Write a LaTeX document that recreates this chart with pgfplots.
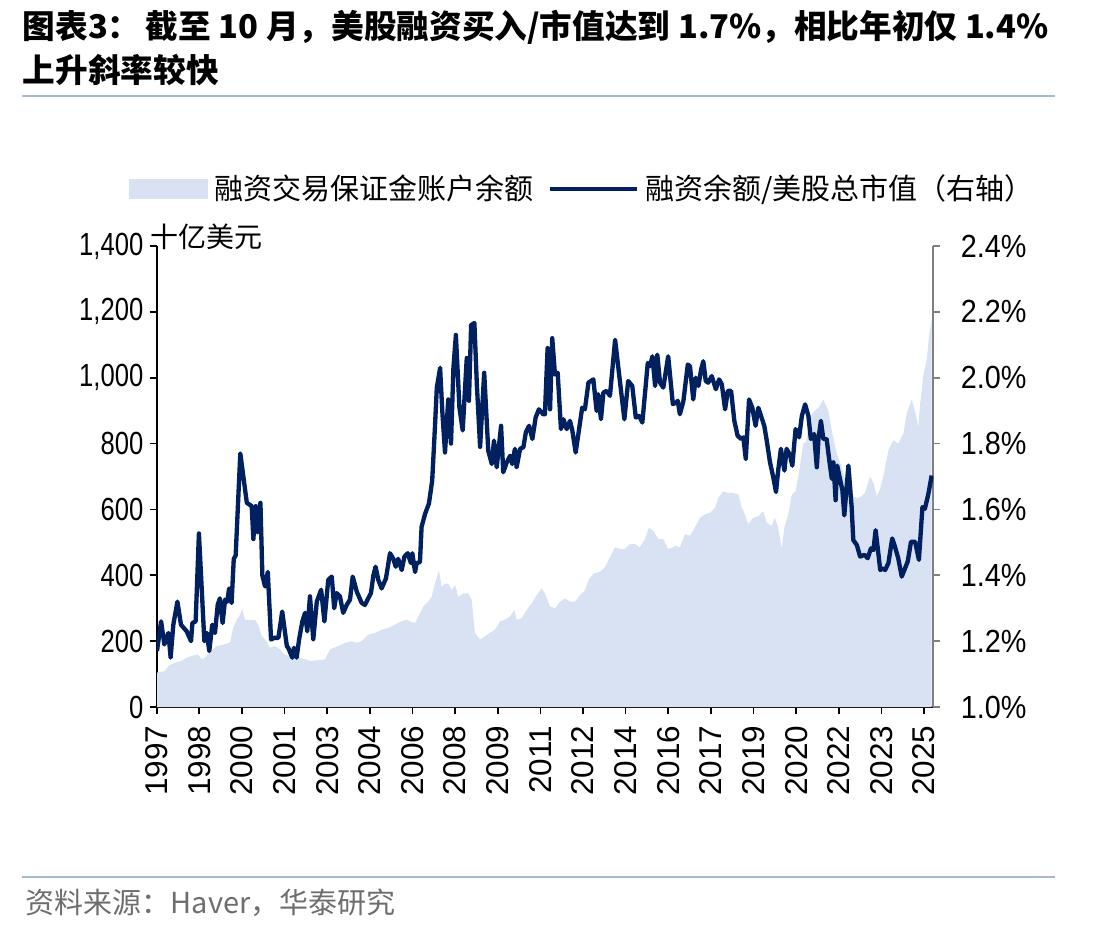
\documentclass[border=0pt]{standalone}
\usepackage{fontspec}
\setmainfont{Liberation Sans}
\newfontfamily\tickfont{Liberation Sans}[FakeStretch=0.8]
\newfontfamily\tickfontr{Liberation Sans}[FakeStretch=0.9]
\newfontfamily\cjk{Noto Sans CJK SC}
\usepackage{pgfplots}
\pgfplotsset{compat=1.18}
\definecolor{areablue}{RGB}{217,226,243}
\definecolor{navy}{RGB}{0,32,96}
\definecolor{rulecol}{RGB}{166,185,212}
\definecolor{srcgray}{RGB}{110,110,110}
\definecolor{raxis}{RGB}{128,128,128}

\pgfplotstableread{
x y
1997.00 105
1997.29 109
1997.42 125
1997.66 135
1997.91 140
1998.09 150
1998.27 155
1998.50 160
1998.64 145
1998.76 150
1998.95 165
1999.19 185
1999.44 190
1999.68 195
1999.80 240
1999.93 265
2000.05 280
2000.13 300
2000.23 265
2000.42 265
2000.60 265
2000.72 250
2000.85 215
2000.97 205
2001.15 180
2001.33 185
2001.52 175
2001.70 158
2001.95 155
2002.25 150
2002.44 145
2002.62 140
2002.93 142
2003.17 145
2003.36 175
2003.66 185
2003.91 195
2004.15 200
2004.34 195
2004.52 200
2004.76 220
2005.01 225
2005.25 235
2005.50 240
2005.74 250
2005.99 260
2006.17 265
2006.29 260
2006.48 255
2006.66 285
2006.78 305
2006.97 320
2007.09 335
2007.21 375
2007.36 415
2007.46 365
2007.58 375
2007.70 375
2007.83 355
2007.95 370
2008.07 335
2008.25 345
2008.44 345
2008.56 325
2008.68 225
2008.87 205
2009.05 215
2009.23 225
2009.42 235
2009.60 260
2009.78 265
2009.97 275
2010.13 295
2010.21 265
2010.40 270
2010.58 295
2010.77 315
2010.95 340
2011.13 360
2011.25 345
2011.44 305
2011.62 300
2011.81 320
2011.99 330
2012.17 320
2012.36 320
2012.54 340
2012.72 355
2012.85 385
2013.03 405
2013.27 410
2013.46 425
2013.64 455
2013.83 485
2014.01 480
2014.19 480
2014.38 495
2014.56 495
2014.74 485
2014.93 510
2015.07 545
2015.23 535
2015.42 510
2015.60 510
2015.78 480
2015.97 485
2016.03 490
2016.21 485
2016.40 525
2016.58 520
2016.76 545
2016.95 575
2017.13 585
2017.32 590
2017.50 605
2017.62 635
2017.80 655
2017.99 650
2018.17 650
2018.36 645
2018.48 605
2018.60 585
2018.72 555
2018.91 575
2019.09 580
2019.27 595
2019.40 560
2019.58 550
2019.70 575
2019.82 545
2019.95 480
2020.05 545
2020.19 585
2020.32 645
2020.46 655
2020.59 715
2020.74 800
2020.85 805
2020.99 880
2021.17 900
2021.32 910
2021.48 934
2021.66 900
2021.79 840
2021.97 770
2022.15 730
2022.34 670
2022.52 640
2022.71 635
2022.89 640
2023.01 650
2023.19 700
2023.32 680
2023.44 640
2023.56 660
2023.68 700
2023.87 780
2024.05 810
2024.23 800
2024.42 830
2024.54 890
2024.73 935
2024.87 890
2024.97 850
2025.03 915
2025.15 1005
2025.28 1055
2025.36 1125
2025.46 1180
}\margintab

\pgfplotstableread{
x y
1997.00 1.17
1997.15 1.26
1997.27 1.19
1997.42 1.225
1997.50 1.15
1997.60 1.25
1997.75 1.32
1997.88 1.25
1998.09 1.23
1998.25 1.20
1998.30 1.255
1998.42 1.26
1998.54 1.527
1998.74 1.20
1998.83 1.225
1998.92 1.17
1999.03 1.25
1999.13 1.225
1999.23 1.31
1999.31 1.33
1999.41 1.255
1999.50 1.326
1999.58 1.32
1999.65 1.36
1999.74 1.316
1999.82 1.45
1999.89 1.46
2000.06 1.77
2000.30 1.62
2000.48 1.61
2000.54 1.51
2000.63 1.61
2000.70 1.53
2000.80 1.62
2000.87 1.40
2000.97 1.366
2001.07 1.41
2001.19 1.205
2001.31 1.21
2001.46 1.21
2001.60 1.29
2001.77 1.185
2001.82 1.18
2001.97 1.15
2002.03 1.18
2002.13 1.15
2002.22 1.205
2002.34 1.26
2002.44 1.286
2002.52 1.23
2002.62 1.336
2002.74 1.205
2002.87 1.32
2003.03 1.356
2003.15 1.26
2003.29 1.386
2003.42 1.396
2003.51 1.30
2003.60 1.346
2003.72 1.336
2003.84 1.286
2003.97 1.31
2004.09 1.326
2004.19 1.396
2004.34 1.35
2004.52 1.316
2004.64 1.31
2004.76 1.33
2004.86 1.346
2004.95 1.40
2005.03 1.426
2005.13 1.386
2005.25 1.36
2005.41 1.39
2005.56 1.467
2005.68 1.45
2005.77 1.426
2005.86 1.45
2005.99 1.416
2006.09 1.457
2006.21 1.467
2006.33 1.437
2006.38 1.467
2006.48 1.41
2006.54 1.437
2006.66 1.44
2006.72 1.547
2006.85 1.587
2006.99 1.618
2007.11 1.688
2007.21 1.849
2007.28 1.97
2007.40 2.03
2007.48 1.90
2007.58 1.773
2007.70 1.934
2007.80 1.80
2007.89 2.03
2007.98 2.13
2008.11 1.91
2008.23 1.84
2008.38 2.06
2008.46 1.93
2008.54 2.16
2008.66 2.166
2008.75 1.98
2008.87 1.79
2009.02 2.015
2009.17 1.778
2009.30 1.738
2009.38 1.809
2009.48 1.728
2009.64 1.854
2009.72 1.713
2009.85 1.743
2009.97 1.763
2010.05 1.738
2010.15 1.784
2010.21 1.728
2010.34 1.784
2010.46 1.789
2010.55 1.834
2010.67 1.854
2010.79 1.814
2010.91 1.879
2011.03 1.904
2011.19 1.889
2011.25 1.889
2011.35 2.09
2011.44 1.904
2011.52 2.12
2011.62 2.01
2011.72 2.015
2011.84 1.844
2011.93 1.874
2012.05 1.844
2012.17 1.869
2012.26 1.839
2012.38 1.773
2012.48 1.829
2012.62 1.909
2012.72 1.904
2012.85 1.985
2013.03 1.995
2013.15 1.899
2013.21 1.95
2013.31 1.874
2013.40 1.955
2013.52 1.96
2013.64 1.945
2013.83 2.115
2013.97 2.015
2014.17 1.874
2014.31 1.99
2014.46 1.975
2014.59 1.879
2014.71 1.884
2014.83 1.864
2015.03 2.045
2015.11 2.035
2015.20 2.065
2015.30 1.975
2015.38 2.07
2015.48 1.985
2015.60 1.97
2015.78 2.065
2015.95 1.92
2016.07 1.924
2016.13 1.93
2016.21 1.889
2016.34 1.93
2016.50 2.04
2016.58 2.035
2016.70 1.934
2016.79 2.0
2016.89 1.975
2016.99 2.025
2017.07 2.05
2017.16 1.99
2017.25 1.985
2017.38 2.005
2017.53 1.965
2017.65 1.995
2017.75 1.98
2017.87 1.904
2017.97 1.96
2018.09 1.96
2018.21 1.869
2018.33 1.824
2018.46 1.814
2018.54 1.819
2018.63 1.753
2018.75 1.934
2018.87 1.909
2018.99 1.854
2019.09 1.909
2019.21 1.879
2019.31 1.854
2019.40 1.809
2019.52 1.743
2019.64 1.698
2019.74 1.653
2019.82 1.718
2019.92 1.784
2020.05 1.718
2020.13 1.784
2020.26 1.763
2020.34 1.733
2020.46 1.844
2020.59 1.819
2020.69 1.884
2020.81 1.919
2020.93 1.884
2021.02 1.814
2021.14 1.829
2021.24 1.728
2021.30 1.814
2021.39 1.869
2021.48 1.814
2021.60 1.814
2021.70 1.748
2021.79 1.693
2021.85 1.743
2021.93 1.628
2021.99 1.733
2022.09 1.693
2022.18 1.658
2022.25 1.582
2022.40 1.733
2022.52 1.607
2022.58 1.507
2022.71 1.492
2022.83 1.457
2022.99 1.462
2023.11 1.452
2023.23 1.482
2023.32 1.477
2023.40 1.537
2023.50 1.467
2023.57 1.416
2023.65 1.421
2023.75 1.416
2023.87 1.437
2024.01 1.512
2024.11 1.487
2024.23 1.452
2024.36 1.396
2024.48 1.421
2024.58 1.442
2024.70 1.502
2024.85 1.502
2024.99 1.447
2025.12 1.607
2025.21 1.602
2025.34 1.648
2025.46 1.703
}\ratiotab

\begin{document}
\begin{tikzpicture}
\path[use as bounding box] (0,0) rectangle (333.6pt,279.3pt);
\begin{scope}[shift={(0pt,279.3pt)}, x=0.3pt, y=-0.3pt]
  \draw[rulecol, line width=0.6pt] (22,96) -- (1055,96);
  \draw[rulecol, line width=0.6pt] (22,877) -- (1055,877);
  \node[anchor=west, inner sep=0pt, font=\cjk\bfseries\fontsize{9.8}{12}\selectfont] at (22,27) {图表3：\,截至 10 月，美股融资买入/市值达到 1.7\%，相比年初仅 1.4\%};
  \node[anchor=west, inner sep=0pt, font=\cjk\bfseries\fontsize{9.8}{12}\selectfont] at (22,70) {上升斜率较快};
  \node[anchor=west, inner sep=0pt, font=\cjk\fontsize{8.4}{10}\selectfont] at (150,237) {十亿美元};
  \node[anchor=west, inner sep=0pt, text=srcgray, font=\cjk\fontsize{8.7}{10}\selectfont] at (25,903) {资料来源：Haver，华泰研究};
\end{scope}

\begin{axis}[
  at={(47.01pt,67.2pt)}, anchor=south west,
  scale only axis, width=232.98pt, height=138.3pt,
  xmin=1996.989, xmax=2025.52, ymin=0, ymax=1400,
  axis y line*=left, axis x line*=bottom,
  axis line style={black, line width=0.6pt, -},
  tick align=outside, major tick length=2.1pt,
  tick style={black, line width=0.5pt},
  ytick={0,200,400,600,800,1000,1200,1400},
  /pgf/number format/1000 sep={,},
  /pgf/number format/assume math mode=true,
  y tick label style={font=\tickfont\fontsize{9.6}{11}\selectfont, xshift=1.6pt},
  xtick={1996.989,1998.555,2000.121,2001.687,2003.253,2004.820,2006.386,2007.952,2009.518,2011.084,2012.650,2014.216,2015.782,2017.348,2018.914,2020.481,2022.047,2023.613,2025.179},
  xticklabels={1997,1998,2000,2001,2003,2004,2006,2008,2009,2011,2012,2014,2016,2017,2019,2020,2022,2023,2025},
  x tick label style={rotate=90, anchor=east, font=\fontsize{9.45}{10}\selectfont},
]
\addplot[fill=areablue, draw=none] table {\margintab} \closedcycle;
\end{axis}

\begin{axis}[
  at={(47.01pt,67.2pt)}, anchor=south west,
  scale only axis, width=232.98pt, height=138.3pt,
  xmin=1996.989, xmax=2025.52, ymin=1.0, ymax=2.4,
  axis y line*=right, axis x line=none,
  axis line style={raxis, line width=0.6pt, -},
  tick align=outside, major tick length=2.1pt,
  tick style={raxis, line width=0.5pt},
  ytick={1.0,1.2,1.4,1.6,1.8,2.0,2.2,2.4},
  yticklabel={\pgfmathprintnumber[fixed,fixed zerofill,precision=1,assume math mode=true]{\tick}\%},
  y tick label style={font=\tickfontr\fontsize{9.6}{11}\selectfont, xshift=2.6pt},
  legend style={at={(0.551,1.123)}, anchor=center, draw=none, fill=none,
    legend columns=-1, inner sep=0pt,
    font=\cjk\fontsize{8.7}{10}\selectfont,
    /tikz/every even column/.append style={column sep=2.4pt}},
]
\addlegendimage{legend image code/.code={\fill[areablue] (0pt,-2.85pt) rectangle (23.4pt,2.85pt);}}
\addlegendentry{融资交易保证金账户余额}
\addplot[navy, line width=1.3pt, line join=round,
  legend image code/.code={\draw[navy, line width=1.2pt] (0pt,0pt) -- (26pt,0pt);}]
  table {\ratiotab};
\addlegendentry{融资余额/美股总市值（右轴）}
\end{axis}
\end{tikzpicture}
\end{document}
